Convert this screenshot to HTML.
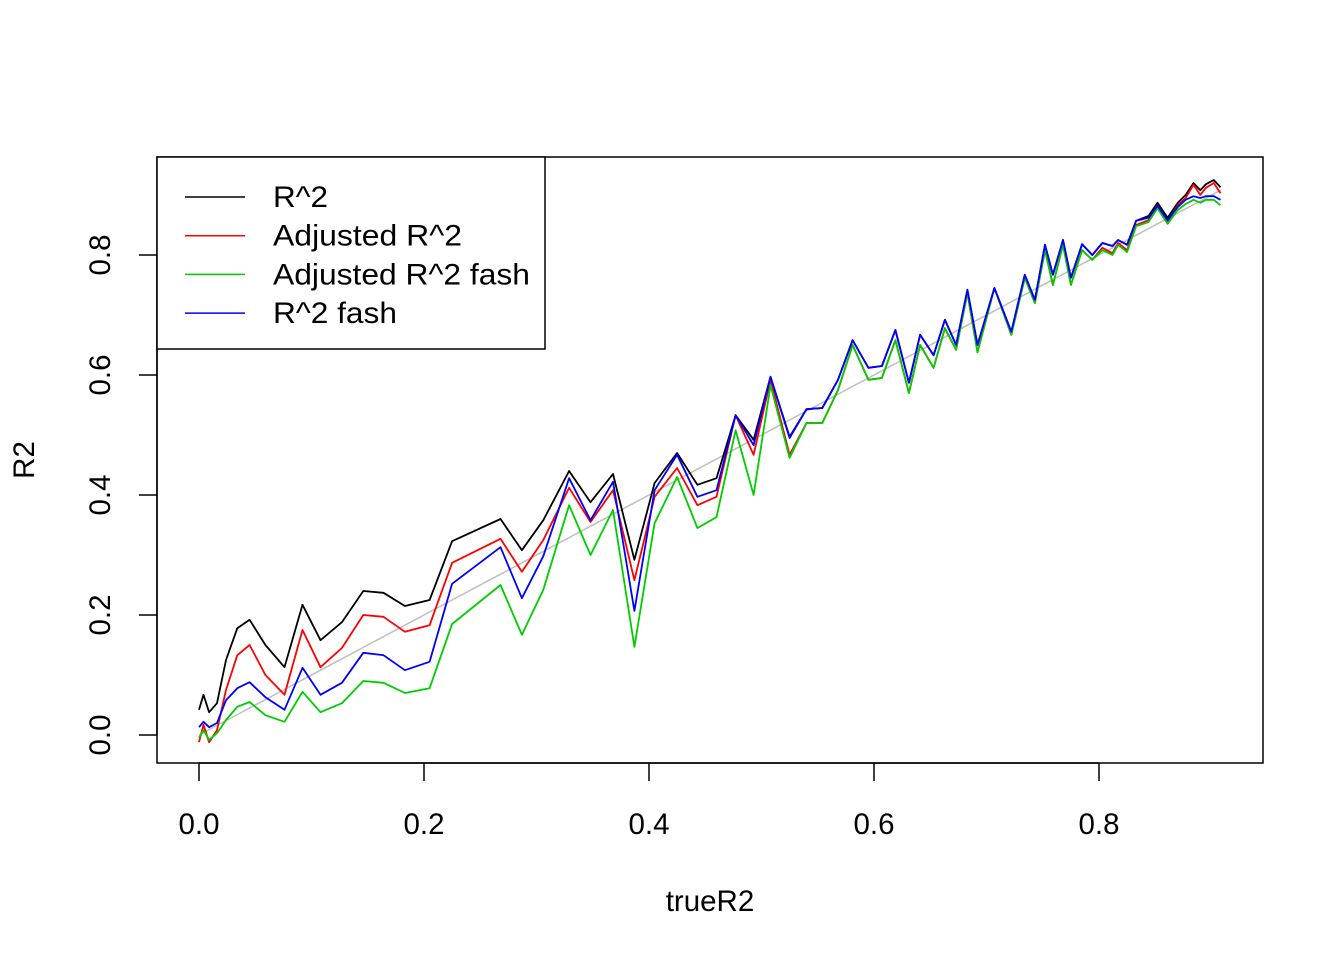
<!DOCTYPE html>
<html><head><meta charset="utf-8"><style>
html,body{margin:0;padding:0;background:#fff;}
svg text{font-family:"Liberation Sans",Arial,sans-serif;fill:#000;}
</style></head><body>
<svg id="chart" width="1344" height="960" xmlns="http://www.w3.org/2000/svg">
<rect width="1344" height="960" fill="#fff"/>
<g id="grey"></g>
<g id="series"></g>
<rect x="157" y="157" width="1106" height="606" fill="none" stroke="#000" stroke-width="1.5"/>
<g id="xaxis"></g>
<g id="yaxis"></g>
<text x="710" y="911" font-size="29.5" text-anchor="middle">trueR2</text>
<text transform="translate(34,460) rotate(-90)" font-size="29.5" text-anchor="middle">R2</text>
<g id="legend">
<rect x="157" y="157" width="388" height="192" fill="#fff" stroke="#000" stroke-width="1.5"/>
</g>
</svg>
<script>
const trueR2=[0,0.004,0.009,0.016,0.024,0.034,0.045,0.059,0.076,0.092,0.108,0.127,0.146,0.164,0.183,0.205,0.225,0.268,0.287,0.306,0.329,0.348,0.368,0.387,0.405,0.425,0.443,0.460,0.477,0.493,0.508,0.525,0.540,0.554,0.568,0.581,0.595,0.607,0.619,0.631,0.641,0.653,0.663,0.673,0.683,0.692,0.707,0.722,0.734,0.743,0.752,0.759,0.768,0.775,0.785,0.794,0.803,0.812,0.817,0.825,0.833,0.844,0.852,0.861,0.870,0.877,0.884,0.890,0.895,0.902,0.908];
const r2=[0.042,0.067,0.038,0.053,0.125,0.178,0.192,0.150,0.113,0.217,0.158,0.188,0.240,0.237,0.215,0.225,0.323,0.360,0.308,0.358,0.440,0.388,0.435,0.292,0.420,0.470,0.417,0.428,0.533,0.492,0.597,0.497,0.543,0.545,0.592,0.658,0.612,0.615,0.675,0.587,0.667,0.633,0.692,0.650,0.742,0.650,0.745,0.672,0.767,0.725,0.817,0.767,0.825,0.762,0.818,0.800,0.820,0.815,0.825,0.817,0.857,0.865,0.887,0.862,0.887,0.900,0.920,0.908,0.918,0.925,0.913];
const adjR2=[-0.012,0.017,-0.012,0.008,0.075,0.133,0.150,0.100,0.067,0.175,0.113,0.145,0.200,0.197,0.172,0.183,0.287,0.327,0.272,0.325,0.412,0.355,0.408,0.258,0.397,0.445,0.383,0.397,0.533,0.467,0.592,0.467,0.520,0.520,0.575,0.650,0.592,0.595,0.658,0.570,0.650,0.612,0.678,0.642,0.737,0.638,0.745,0.667,0.762,0.720,0.808,0.750,0.817,0.750,0.808,0.792,0.812,0.803,0.820,0.808,0.850,0.858,0.883,0.855,0.883,0.895,0.917,0.900,0.912,0.920,0.903];
const adjR2fash=[-0.005,0.008,-0.008,0.003,0.025,0.047,0.055,0.033,0.022,0.072,0.038,0.053,0.090,0.087,0.070,0.078,0.185,0.250,0.167,0.242,0.383,0.300,0.375,0.147,0.353,0.430,0.345,0.363,0.508,0.400,0.583,0.462,0.520,0.520,0.575,0.650,0.592,0.595,0.658,0.570,0.650,0.612,0.678,0.642,0.737,0.638,0.745,0.667,0.762,0.720,0.808,0.750,0.817,0.750,0.808,0.792,0.808,0.800,0.817,0.805,0.848,0.855,0.878,0.852,0.875,0.885,0.892,0.887,0.892,0.892,0.883];
const r2fash=[0.013,0.022,0.013,0.020,0.058,0.078,0.088,0.063,0.042,0.112,0.067,0.087,0.137,0.133,0.108,0.122,0.252,0.313,0.228,0.298,0.428,0.358,0.422,0.207,0.408,0.467,0.397,0.408,0.533,0.483,0.597,0.495,0.543,0.545,0.592,0.658,0.612,0.615,0.675,0.587,0.667,0.633,0.692,0.650,0.742,0.650,0.745,0.672,0.767,0.725,0.817,0.767,0.825,0.762,0.818,0.800,0.820,0.815,0.825,0.817,0.857,0.862,0.882,0.858,0.880,0.892,0.898,0.895,0.898,0.898,0.892];
const xTicks=[0,0.2,0.4,0.6,0.8];
const yTicks=[0,0.2,0.4,0.6,0.8];
const seriesNames=["R^2","Adjusted R^2","Adjusted R^2 fash","R^2 fash"];
const seriesColors=["#000000","#ff0000","#00cd00","#0000ff"];

const NS="http://www.w3.org/2000/svg";
const X=v=>199+v*1125;
const Y=v=>735-v*600;
function mk(tag,attrs,parent){const e=document.createElementNS(NS,tag);for(const k in attrs)e.setAttribute(k,attrs[k]);parent.appendChild(e);return e;}
function pts(xs,ys){return xs.map((x,i)=>X(x).toFixed(1)+","+Y(ys[i]).toFixed(1)).join(" ");}

const g=document.getElementById("grey");
const gl=mk("polyline",{points:pts(trueR2,trueR2),fill:"none",stroke:"#bebebe","stroke-width":1.5},g);



const sg=document.getElementById("series");
const data=[r2,adjR2,adjR2fash,r2fash];
const slugs=["r2-line","adjusted-r2-line","adjusted-r2-fash-line","r2-fash-line"];
data.forEach((d,i)=>{
  const l=mk("polyline",{points:pts(trueR2,d),fill:"none",stroke:seriesColors[i],"stroke-width":1.8,"stroke-linejoin":"round"},sg);
  
  
});

const xa=document.getElementById("xaxis");
mk("line",{x1:X(xTicks[0]),x2:X(xTicks[xTicks.length-1]),y1:763,y2:763,stroke:"#000","stroke-width":1.5},xa);
xTicks.forEach(t=>{
  mk("line",{x1:X(t),x2:X(t),y1:763,y2:781,stroke:"#000","stroke-width":1.5},xa);
  const tx=mk("text",{x:X(t),y:834,"font-size":29.5,"text-anchor":"middle"},xa);
  tx.textContent=t.toFixed(1);
  
  
});
const ya=document.getElementById("yaxis");
mk("line",{x1:157,x2:157,y1:Y(yTicks[0]),y2:Y(yTicks[yTicks.length-1]),stroke:"#000","stroke-width":1.5},ya);
yTicks.forEach(t=>{
  mk("line",{x1:139,x2:157,y1:Y(t),y2:Y(t),stroke:"#000","stroke-width":1.5},ya);
  const tx=mk("text",{transform:`translate(110,${Y(t)}) rotate(-90)`,"font-size":29.5,"text-anchor":"middle"},ya);
  tx.textContent=t.toFixed(1);
  
  
});

const lg=document.getElementById("legend");
const legendWidths=[55,189,257,124];
seriesNames.forEach((n,i)=>{
  const y=197+i*38.7;
  const ent=mk("g",{},lg);
  
  
  mk("line",{x1:185,x2:245,y1:y,y2:y,stroke:seriesColors[i],"stroke-width":1.5},ent);
  const tx=mk("text",{x:273,y:y+10,"font-size":29.5,textLength:legendWidths[i],lengthAdjust:"spacingAndGlyphs"},ent);
  tx.textContent=n;
});
</script>
</body></html>
